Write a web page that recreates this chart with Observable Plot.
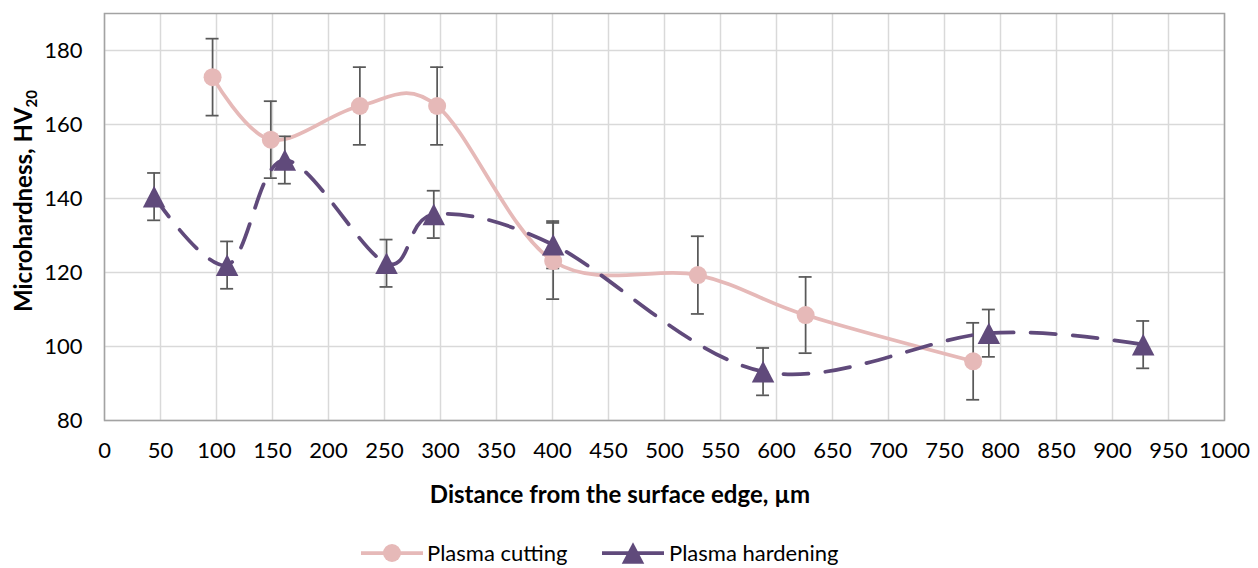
<!DOCTYPE html>
<html>
<head>
<meta charset="utf-8">
<script src="https://cdn.jsdelivr.net/npm/d3@7"></script>
<script src="https://cdn.jsdelivr.net/npm/@observablehq/plot@0.6"></script>
<style>
  body { margin: 0; background: #fff; font-family: Lato, sans-serif; }
  #wrap { position: relative; width: 1258px; height: 568px; overflow: hidden; }
  .leg { position: absolute; }
  .legtxt { position: absolute; font-family: Lato, sans-serif; font-size: 22px; line-height: 24px; color: #000; white-space: nowrap; }
</style>
</head>
<body>
<div id="wrap"></div>
<script>
// ---- data ----
const xTicks = [0, 50, 100, 150, 200, 250, 300, 350, 400, 450, 500, 550, 600, 650, 700, 750, 800, 850, 900, 950, 1000];
const yTicks = [80, 100, 120, 140, 160, 180];

const seriesNames = ["Plasma cutting", "Plasma hardening"];

const cuttingX   = [96.5, 148.5, 228, 297, 400.6, 529.8, 626, 775.6];
const cuttingY   = [172.8, 155.9, 165.0, 165.0, 123.1, 119.3, 108.5, 96.0];
const cuttingErr = [10.4, 10.4, 10.5, 10.5, 10.3, 10.5, 10.3, 10.4];

const hardeningX   = [44.3, 109.5, 161, 251.8, 294, 400.6, 588, 789.6, 927.4];
const hardeningY   = [140.5, 122.0, 150.4, 122.5, 135.7, 127.5, 93.2, 103.6, 100.5];
const hardeningErr = [6.4, 6.4, 6.4, 6.4, 6.4, 6.4, 6.4, 6.4, 6.4];

// ---- styles ----
const pink = "#e6b9b8";
const purple = "#604a7b";
const errColor = "#595959";
const capHalf = 5.8;

const cutting = cuttingX.map((x, i) => ({x, y: cuttingY[i], e: cuttingErr[i]}));
const hardening = hardeningX.map((x, i) => ({x, y: hardeningY[i], e: hardeningErr[i]}));

const triangle = {
  draw(context, size) {
    const r = Math.sqrt(size / Math.PI);
    const hw = r * 1.25, hh = r * 1.2;
    context.moveTo(0, -hh);
    context.lineTo(hw, hh);
    context.lineTo(-hw, hh);
    context.closePath();
  }
};

function errorMarks(data) {
  return [
    Plot.ruleX(data, {x: "x", y1: d => d.y - d.e, y2: d => d.y + d.e, stroke: errColor, strokeWidth: 1.75}),
    Plot.ruleY(data, {y: d => d.y + d.e, x1: d => d.x - capHalf, x2: d => d.x + capHalf, stroke: errColor, strokeWidth: 1.75}),
    Plot.ruleY(data, {y: d => d.y - d.e, x1: d => d.x - capHalf, x2: d => d.x + capHalf, stroke: errColor, strokeWidth: 1.75})
  ];
}

const plot = Plot.plot({
  width: 1258,
  height: 520,
  marginTop: 13,
  marginLeft: 104,
  marginRight: 34,
  marginBottom: 100,
  style: {fontFamily: "Lato, sans-serif", fontSize: "22px", color: "#000", background: "#fff", overflow: "visible"},
  x: {domain: [0, 1000], label: null},
  y: {domain: [80, 190], label: null},
  marks: [
    Plot.gridX(xTicks, {stroke: "#d9d9d9", strokeOpacity: 1, strokeWidth: 1.5}),
    Plot.gridY(yTicks, {stroke: "#d9d9d9", strokeOpacity: 1, strokeWidth: 1.5}),
    Plot.frame({stroke: "#a3a3a3", strokeWidth: 1.5}),
    Plot.axisX(xTicks, {tickSize: 0, tickPadding: 22, fontSize: 22, label: null, tickFormat: d => String(d)}),
    Plot.axisY(yTicks, {tickSize: 0, tickPadding: 22, fontSize: 22, label: null, tickFormat: d => String(d)}),
    ...errorMarks(cutting),
    Plot.line(cutting, {x: "x", y: "y", curve: "cardinal", stroke: pink, strokeWidth: 3.75}),
    ...errorMarks(hardening),
    Plot.line(hardening, {x: "x", y: "y", curve: "cardinal", stroke: purple, strokeWidth: 3.75, strokeDasharray: "25,17", strokeLinecap: "round"}),
    Plot.dot(cutting, {x: "x", y: "y", r: 9, fill: pink, stroke: null}),
    Plot.dot(hardening, {x: "x", y: "y", r: 9, symbol: triangle, fill: purple, stroke: null})
  ]
});

const wrap = document.getElementById("wrap");
wrap.appendChild(plot);

// axis titles
const svg = d3.select(plot);
const yt = svg.append("text")
  .attr("transform", "translate(32,201) rotate(-90)")
  .attr("text-anchor", "middle")
  .attr("font-family", "Lato, sans-serif")
  .attr("font-weight", "bold")
  .attr("font-size", 24)
  .attr("fill", "#000");
yt.append("tspan").text("Microhardness, HV");
yt.append("tspan").attr("font-size", 15).attr("dy", 5).text("20");

svg.append("text")
  .attr("x", 620).attr("y", 503)
  .attr("text-anchor", "middle")
  .attr("font-family", "Lato, sans-serif")
  .attr("font-weight", "bold")
  .attr("font-size", 24)
  .attr("fill", "#000")
  .text("Distance from the surface edge, µm");

// legend (HTML, below the plot SVG)
function swatch(left, color, symbol) {
  const s = d3.select(wrap).append("svg").attr("class", "leg")
    .style("left", left + "px").style("top", "541px")
    .attr("width", 62).attr("height", 24);
  s.append("line").attr("x1", 0).attr("x2", 62).attr("y1", 12).attr("y2", 12)
    .attr("stroke", color).attr("stroke-width", 3.75);
  s.append("path").attr("transform", "translate(31,12)")
    .attr("d", d3.symbol(symbol, Math.PI * 81)()).attr("fill", color);
}
swatch(361, pink, d3.symbolCircle);
swatch(602, purple, triangle);
d3.select(wrap).append("div").attr("class", "legtxt").style("left", "427px").style("top", "541px").text(seriesNames[0]);
d3.select(wrap).append("div").attr("class", "legtxt").style("left", "669px").style("top", "541px").text(seriesNames[1]);
</script>
</body>
</html>
